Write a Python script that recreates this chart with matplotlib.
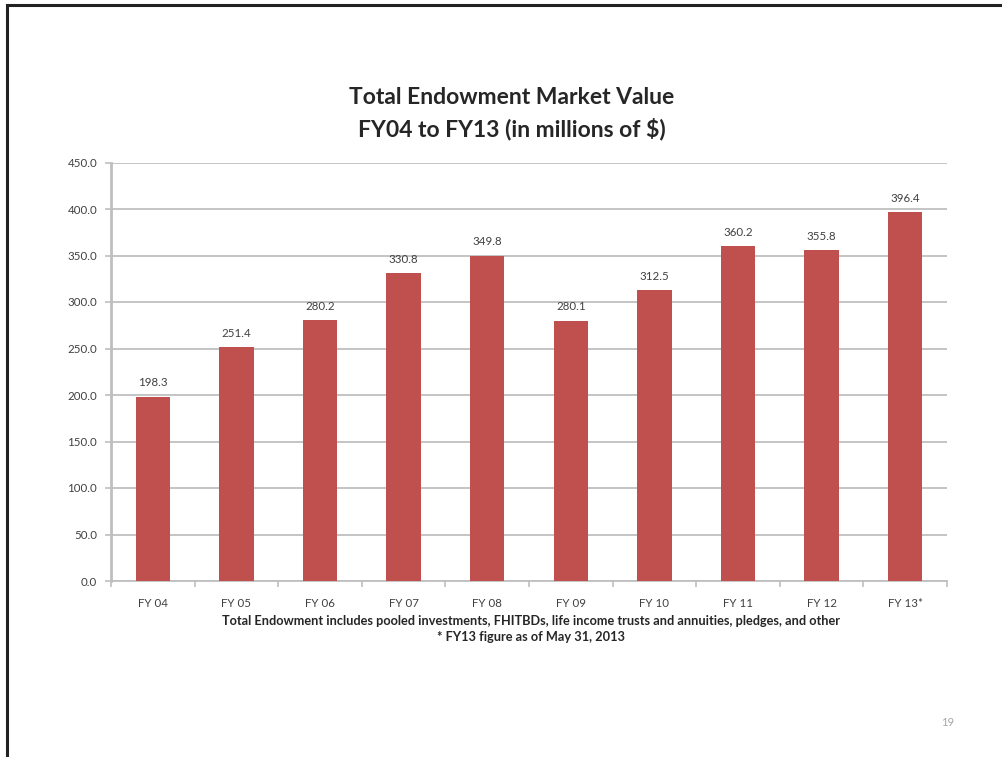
import matplotlib.pyplot as plt
from matplotlib.patches import Rectangle
import numpy as np

# Endowment values, millions of dollars
years = ["FY 04", "FY 05", "FY 06", "FY 07", "FY 08",
         "FY 09", "FY 10", "FY 11", "FY 12", "FY 13*"]
values = [198.3, 251.4, 280.2, 330.8, 349.8, 280.1, 312.5, 360.2, 355.8, 396.4]
yticks = [0, 50, 100, 150, 200, 250, 300, 350, 400, 450]

plt.rcParams['font.family'] = ['Lato', 'DejaVu Sans']

W, H = 1003, 757
fig = plt.figure(figsize=(W / 100, H / 100), dpi=100)

# slide frame (runs off the right and bottom edge)
fig.patches.append(Rectangle((7 / W, -0.1), 1.2, 1 - 5 / H + 0.1,
                             transform=fig.transFigure, fill=False,
                             edgecolor="#222222", linewidth=2.2))

ax = fig.add_axes([111 / W, 176 / H, 836 / W, (581 - 162.5) / H])
x = np.arange(len(years))
ax.bar(x, values, width=0.41, color="#C0504D", zorder=3)

for xi, v in zip(x, values):
    ax.text(xi, v + 9, f"{v:.1f}", ha="center", va="bottom",
            fontsize=8.3, color="#404040")

ax.set_xlim(-0.5, len(years) - 0.5)
ax.set_ylim(0, 450)
ax.set_yticks(yticks)
ax.set_yticklabels([f"{t:.1f}" for t in yticks])
ax.set_xticks(x)
ax.set_xticklabels(years)
ax.set_xticks(np.arange(len(years) + 1) - 0.5, minor=True)

ax.grid(axis="y", color="#BFBFBF", linewidth=1.3, zorder=0)
for s in ["top", "right"]:
    ax.spines[s].set_visible(False)
ax.spines["left"].set_color("#BFBFBF")
ax.spines["left"].set_linewidth(2)
ax.spines["bottom"].set_color("#BFBFBF")
ax.spines["bottom"].set_linewidth(1.3)
ax.tick_params(axis="y", length=4, width=1.2, color="#BFBFBF",
               labelsize=8.3, labelcolor="#404040", pad=6)
ax.tick_params(axis="x", which="major", length=0, labelsize=8.3,
               labelcolor="#404040", pad=12)
ax.tick_params(axis="x", which="minor", length=4, width=1.2, color="#BFBFBF")

fig.text(512 / W, 1 - 98 / H, "Total Endowment Market Value",
         ha="center", va="center", fontsize=16.5, fontweight="bold", color="#262626")
fig.text(512 / W, 1 - 129 / H, "FY04 to FY13 (in millions of $)",
         ha="center", va="center", fontsize=16.5, fontweight="bold", color="#262626")

fig.text(531 / W, 1 - 621 / H,
         "Total Endowment includes pooled investments, FHITBDs, life income trusts and annuities, pledges, and other",
         ha="center", va="center", fontsize=9.2, fontweight="bold", color="#262626")
fig.text(531 / W, 1 - 637 / H, "* FY13 figure as of May 31, 2013",
         ha="center", va="center", fontsize=9.2, fontweight="bold", color="#262626")

fig.text(948 / W, 1 - 723 / H, "19", ha="center", va="center",
         fontsize=8, color="#A6A6A6")

fig.savefig("out.png", dpi=100)
